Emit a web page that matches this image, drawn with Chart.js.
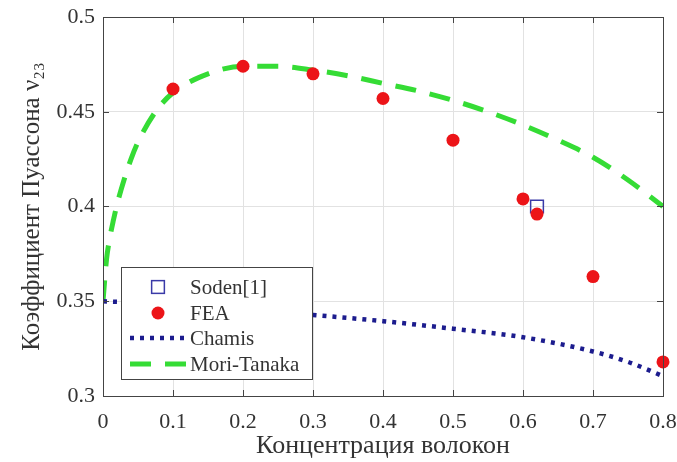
<!DOCTYPE html>
<html>
<head>
<meta charset="utf-8">
<script src="https://cdn.jsdelivr.net/npm/chart.js@4.4.0/dist/chart.umd.min.js"></script>
<style>
  html, body { margin: 0; padding: 0; background: #fff; }
  #wrap { width: 677px; height: 462px; }
</style>
</head>
<body>
<div id="wrap"><canvas id="chart"></canvas></div>
<script>
// data
var sodenX = [0.62];
var sodenY = [0.400];

var feaX = [0.1, 0.2, 0.3, 0.4, 0.5, 0.6, 0.62, 0.7, 0.8];
var feaY = [0.462, 0.474, 0.470, 0.457, 0.435, 0.404, 0.396, 0.363, 0.318];

var chamisX = [0, 0.1, 0.2, 0.3, 0.4, 0.5, 0.6, 0.7, 0.75, 0.8];
var chamisY = [0.350, 0.3485, 0.346, 0.3428, 0.3395, 0.3355, 0.331, 0.3235, 0.318, 0.3105];

var moriX = [0, 0.005, 0.01, 0.015, 0.02, 0.03, 0.04, 0.05, 0.075, 0.1, 0.15, 0.2, 0.25,
             0.3, 0.35, 0.4, 0.45, 0.5, 0.55, 0.6, 0.65, 0.7, 0.75, 0.8];
var moriY = [0.350, 0.372, 0.384, 0.393, 0.401, 0.414, 0.425, 0.434, 0.450, 0.460, 0.470, 0.474, 0.474,
             0.472, 0.469, 0.465, 0.461, 0.456, 0.450, 0.443, 0.435, 0.426, 0.414, 0.400];

var xTickValues = [0, 0.1, 0.2, 0.3, 0.4, 0.5, 0.6, 0.7, 0.8];
var xTickLabels = ['0', '0.1', '0.2', '0.3', '0.4', '0.5', '0.6', '0.7', '0.8'];
var yTickValues = [0.3, 0.35, 0.4, 0.45, 0.5];
var yTickLabels = ['0.3', '0.35', '0.4', '0.45', '0.5'];

var seriesNames = ['Soden[1]', 'FEA', 'Chamis', 'Mori-Tanaka'];

function pts(xs, ys) {
  return xs.map(function(x, i) { return { x: x, y: ys[i] }; });
}

var serif = "'Liberation Serif', 'Times New Roman', serif";
var textColor = '#333';

// box, inner ticks and legend drawn inside the plot like MATLAB does
var matlabFrame = {
  id: 'matlabFrame',
  afterDraw: function(chart) {
    var ctx = chart.ctx;
    var a = chart.chartArea;
    var xs = chart.scales.x, ys = chart.scales.y;
    ctx.save();
    ctx.strokeStyle = '#444';
    ctx.lineWidth = 1;
    ctx.beginPath();
    xTickValues.forEach(function(v) {
      var px = Math.round(xs.getPixelForValue(v)) + 0.5;
      ctx.moveTo(px, a.bottom); ctx.lineTo(px, a.bottom - 6);
      ctx.moveTo(px, a.top); ctx.lineTo(px, a.top + 6);
    });
    yTickValues.forEach(function(v) {
      var py = Math.round(ys.getPixelForValue(v)) + 0.5;
      ctx.moveTo(a.left, py); ctx.lineTo(a.left + 6, py);
      ctx.moveTo(a.right, py); ctx.lineTo(a.right - 6, py);
    });
    ctx.stroke();
    ctx.strokeRect(Math.round(a.left) + 0.5, Math.round(a.top) + 0.5,
                   Math.round(a.right - a.left), Math.round(a.bottom - a.top));

    // legend
    var bx = a.left + 18, by = a.top + 250, bw = 191, bh = 112;
    ctx.fillStyle = '#fff';
    ctx.fillRect(bx, by, bw, bh);
    ctx.strokeStyle = '#444';
    ctx.strokeRect(Math.round(bx) + 0.5, Math.round(by) + 0.5, bw, bh);

    var ds = chart.data.datasets;
    var rowY = [20, 46, 71, 97];
    var sx0 = bx + 9, sx1 = bx + 66, mx = bx + 37;
    ctx.font = '21px ' + serif;
    ctx.textBaseline = 'middle';
    ctx.textAlign = 'left';
    for (var i = 0; i < 4; i++) {
      var d = ds[i];
      var cy = by + rowY[i];
      if (d.showLine) {
        ctx.save();
        ctx.strokeStyle = d.borderColor;
        ctx.lineWidth = d.borderWidth;
        ctx.setLineDash(d.borderDash);
        ctx.beginPath();
        ctx.moveTo(sx0, cy); ctx.lineTo(sx1, cy);
        ctx.stroke();
        ctx.restore();
      } else if (d.pointStyle === 'rect') {
        ctx.save();
        ctx.strokeStyle = d.borderColor;
        ctx.lineWidth = d.pointBorderWidth;
        var r = d.pointRadius * Math.SQRT1_2;
        ctx.strokeRect(mx - r, cy - r, 2 * r, 2 * r);
        ctx.restore();
      } else {
        ctx.save();
        ctx.fillStyle = d.backgroundColor;
        ctx.beginPath();
        ctx.arc(mx, cy, d.pointRadius, 0, Math.PI * 2);
        ctx.fill();
        ctx.restore();
      }
      ctx.fillStyle = textColor;
      ctx.fillText(d.label, bx + 69, cy + 1);
    }
    ctx.restore();
  }
};

var ctx = document.getElementById('chart').getContext('2d');
var chart = new Chart(ctx, {
  type: 'scatter',
  data: {
    datasets: [
      {
        label: seriesNames[0],
        data: pts(sodenX, sodenY),
        showLine: false,
        pointStyle: 'rect',
        pointRadius: 9,
        pointBorderWidth: 1.5,
        borderColor: '#3a3aa8',
        backgroundColor: 'rgba(0,0,0,0)',
        clip: false,
        order: 1
      },
      {
        label: seriesNames[1],
        data: pts(feaX, feaY),
        showLine: false,
        pointStyle: 'circle',
        pointRadius: 6.5,
        pointBorderWidth: 0,
        borderColor: '#ec1418',
        backgroundColor: '#ec1418',
        clip: false,
        order: 0
      },
      {
        label: seriesNames[2],
        data: pts(chamisX, chamisY),
        showLine: true,
        borderColor: '#1c1c8e',
        borderWidth: 4.5,
        borderDash: [4, 6],
        borderCapStyle: 'butt',
        pointRadius: 0,
        cubicInterpolationMode: 'monotone',
        order: 2
      },
      {
        label: seriesNames[3],
        data: pts(moriX, moriY),
        showLine: true,
        borderColor: '#35dc35',
        borderWidth: 5,
        borderDash: [21, 14],
        borderCapStyle: 'butt',
        pointRadius: 0,
        cubicInterpolationMode: 'monotone',
        order: 3
      }
    ]
  },
  options: {
    responsive: true,
    maintainAspectRatio: false,
    animation: false,
    layout: { padding: { left: 0, top: 17, right: 14, bottom: 0 } },
    plugins: {
      legend: { display: false },
      tooltip: { enabled: false }
    },
    scales: {
      x: {
        type: 'linear',
        min: 0,
        max: 0.8,
        afterFit: function(s) { s.height = 66; s.paddingLeft = 0; s.paddingRight = 0; },
        afterBuildTicks: function(s) { s.ticks = xTickValues.map(function(v) { return { value: v }; }); },
        grid: { color: '#e2e2e2', drawTicks: false },
        border: { display: false },
        ticks: {
          padding: 13,
          color: textColor,
          font: { family: serif, size: 22 },
          maxRotation: 0,
          callback: function(v, i) { return xTickLabels[i]; }
        },
        title: {
          display: true,
          text: 'Концентрация волокон',
          color: textColor,
          font: { family: serif, size: 26 },
          padding: { top: 0, bottom: 0 }
        }
      },
      y: {
        type: 'linear',
        min: 0.3,
        max: 0.5,
        afterFit: function(s) { s.width = 103; s.paddingTop = 0; s.paddingBottom = 0; },
        afterBuildTicks: function(s) { s.ticks = yTickValues.map(function(v) { return { value: v }; }); },
        grid: { color: '#e2e2e2', drawTicks: false },
        border: { display: false },
        ticks: {
          padding: 8,
          color: textColor,
          font: { family: serif, size: 22 },
          callback: function(v, i) { return yTickLabels[i]; }
        },
        title: {
          display: true,
          text: 'Коэффициент Пуассона ν₂₃',
          color: textColor,
          font: { family: serif, size: 25 },
          padding: { top: 17, bottom: 0 }
        }
      }
    }
  },
  plugins: [matlabFrame]
});
</script>
</body>
</html>
